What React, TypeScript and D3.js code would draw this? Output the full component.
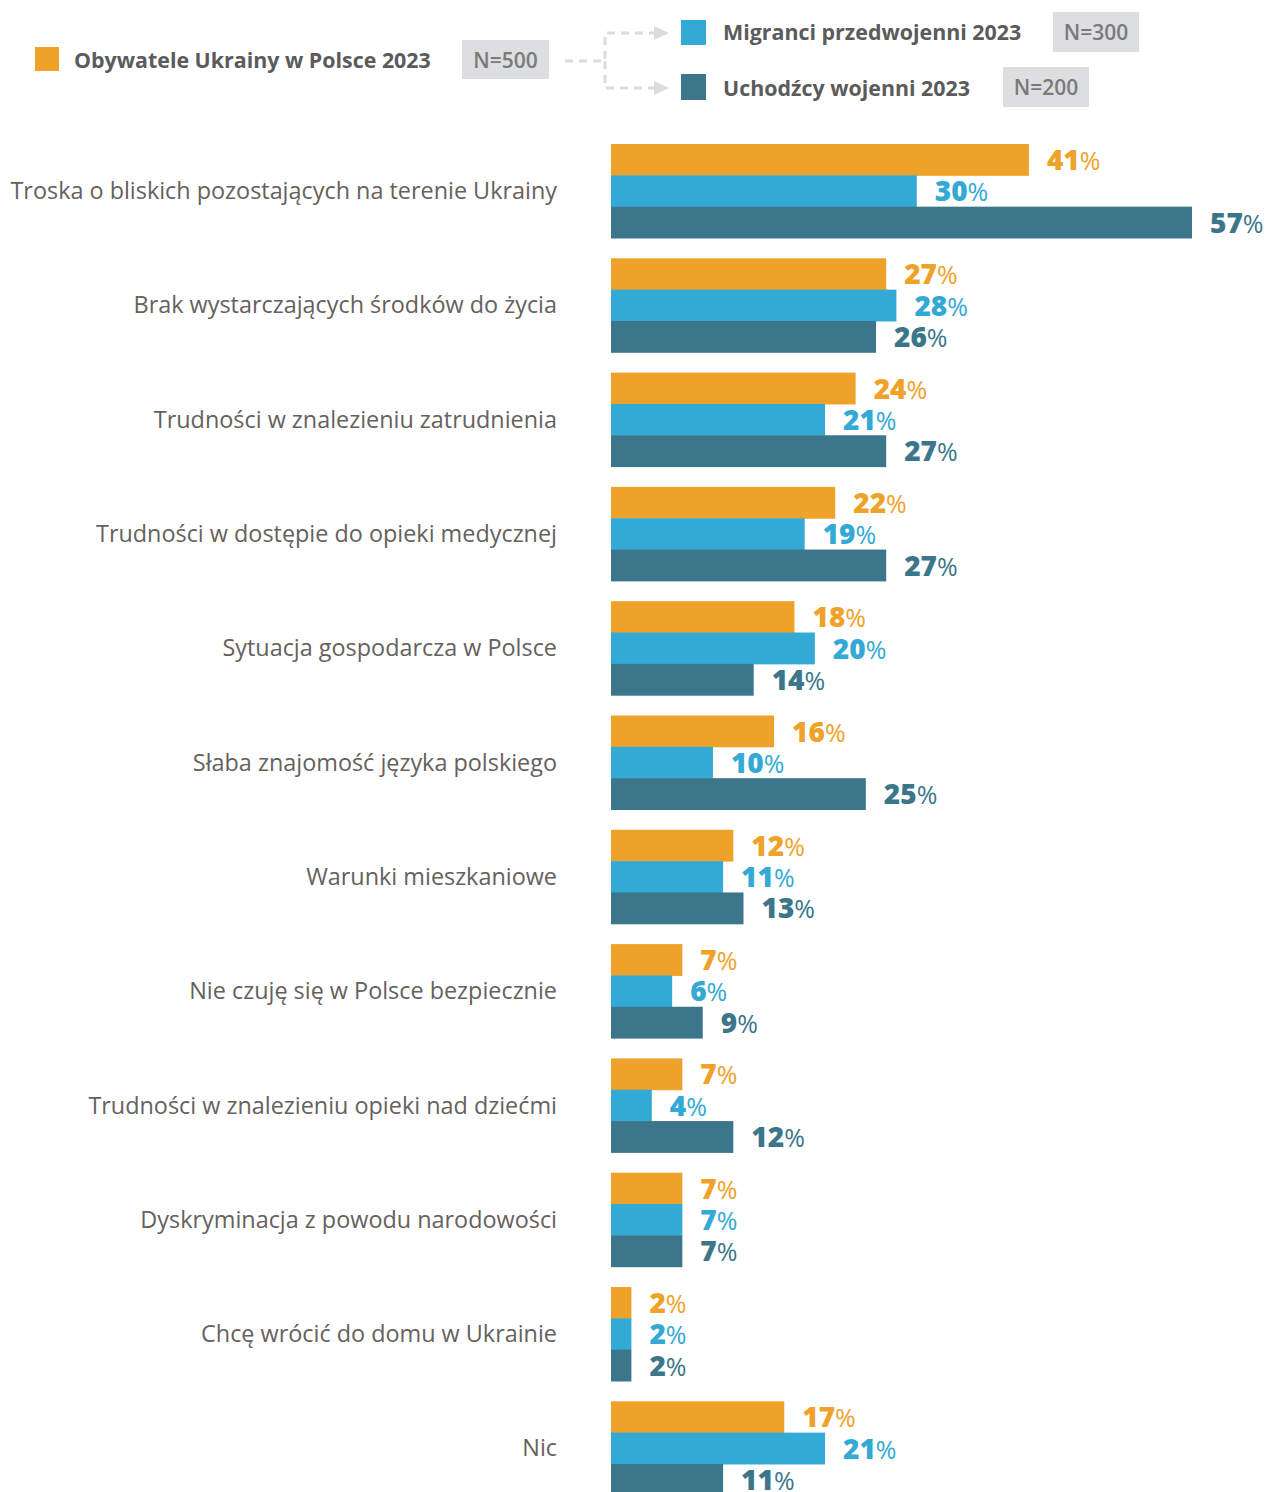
import React from "react";
import * as d3 from "d3";

const categories = [
  "Troska o bliskich pozostających na terenie Ukrainy",
  "Brak wystarczających środków do życia",
  "Trudności w znalezieniu zatrudnienia",
  "Trudności w dostępie do opieki medycznej",
  "Sytuacja gospodarcza w Polsce",
  "Słaba znajomość języka polskiego",
  "Warunki mieszkaniowe",
  "Nie czuję się w Polsce bezpiecznie",
  "Trudności w znalezieniu opieki nad dziećmi",
  "Dyskryminacja z powodu narodowości",
  "Chcę wrócić do domu w Ukrainie",
  "Nic",
];
const obywatele = [41, 27, 24, 22, 18, 16, 12, 7, 7, 7, 2, 17];
const migranci = [30, 28, 21, 19, 20, 10, 11, 6, 4, 7, 2, 21];
const uchodzcy = [57, 26, 27, 27, 14, 25, 13, 9, 12, 7, 2, 11];

const seriesNames = ["Obywatele Ukrainy w Polsce 2023", "Migranci przedwojenni 2023", "Uchodźcy wojenni 2023"];
const seriesN = ["N=500", "N=300", "N=200"];
const colors = ["#EFA229", "#33A9D5", "#3C768B"];

const W = 1267;
const H = 1492;
const FONT = "'Open Sans', 'Noto Sans', sans-serif";

export default function App() {
  const series = [obywatele, migranci, uchodzcy];
  const x = d3.scaleLinear().domain([0, 57]).range([611, 1192]);
  const step = 114.3;
  const pad = 20.3 / step;
  const y = d3
    .scaleBand<string>()
    .domain(categories)
    .range([144, 144 + step * (categories.length - pad)])
    .paddingInner(pad)
    .paddingOuter(0);
  const inner = d3.scaleBand<number>().domain([0, 1, 2]).range([0, y.bandwidth()]).padding(0);

  const legendTextColor = "#5b5b5b";
  const boxFill = "#dcdedf";
  const dashColor = "#dcdcdc";

  return (
    <svg width={W} height={H} style={{ position: "absolute", left: 0, top: 0, background: "#fff" }} fontFamily={FONT}>
      {/* Legend */}
      <g>
        <rect x={35} y={47} width={24} height={24} fill={colors[0]} />
        <text x={74} y={68} fontSize={21.4} fontWeight={700} fill={legendTextColor}>{seriesNames[0]}</text>
        <rect x={462} y={40} width={87} height={39} fill={boxFill} />
        <text x={505.5} y={67.5} fontSize={21} fontWeight={600} fill="#7a7a7a" textAnchor="middle">{seriesN[0]}</text>

        <path d="M565,61 H605 V33 H655 M605,61 V88 H655" fill="none" stroke={dashColor} strokeWidth={3} strokeDasharray="8,6" />
        <path d="M654,26 L669,33 L654,40 Z" fill={dashColor} />
        <path d="M654,81 L669,88 L654,95 Z" fill={dashColor} />

        <rect x={681} y={20} width={25} height={25} fill={colors[1]} />
        <text x={723} y={40} fontSize={21.4} fontWeight={700} fill={legendTextColor}>{seriesNames[1]}</text>
        <rect x={1053} y={12} width={86} height={40} fill={boxFill} />
        <text x={1096} y={40} fontSize={21} fontWeight={600} fill="#7a7a7a" textAnchor="middle">{seriesN[1]}</text>

        <rect x={681} y={74} width={25} height={26} fill={colors[2]} />
        <text x={723} y={96} fontSize={21.4} fontWeight={700} fill={legendTextColor}>{seriesNames[2]}</text>
        <rect x={1003} y={67} width={86} height={40} fill={boxFill} />
        <text x={1046} y={95} fontSize={21} fontWeight={600} fill="#7a7a7a" textAnchor="middle">{seriesN[2]}</text>
      </g>

      {/* Bars */}
      {categories.map((c, i) => {
        const gy = y(c)!;
        return (
          <g key={c}>
            <text
              x={557}
              y={gy + y.bandwidth() / 2}
              dy="0.35em"
              textAnchor="end"
              fontSize={23.4}
              fill="#65615e"
            >
              {c}
            </text>
            {series.map((s, k) => {
              const by = gy + inner(k)!;
              const bw = x(s[i]) - x(0);
              return (
                <g key={k}>
                  <rect x={x(0)} y={by} width={bw} height={inner.bandwidth() + 0.5} fill={colors[k]} />
                  <text
                    x={x(s[i]) + 18}
                    y={by + inner.bandwidth() / 2}
                    dy="0.37em"
                    fontSize={28}
                    fill={colors[k]}
                  >
                    <tspan fontWeight={800}>{s[i]}</tspan>
                    <tspan fontWeight={400} fontSize={25}>%</tspan>
                  </text>
                </g>
              );
            })}
          </g>
        );
      })}
    </svg>
  );
}
